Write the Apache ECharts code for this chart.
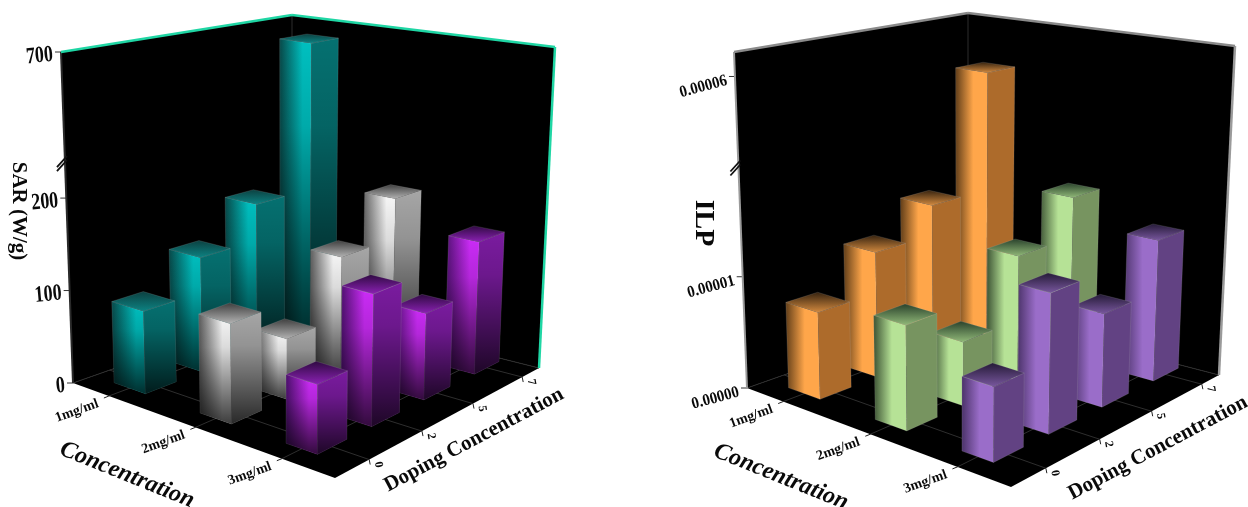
<!DOCTYPE html>
<html><head><meta charset="utf-8">
<style>html,body{margin:0;padding:0;background:#fff}#c{width:1248px;height:507px}</style>
<script src="https://cdn.jsdelivr.net/npm/echarts@6/dist/echarts.min.js"></script>
</head><body><div id="c"></div>
<script>
// ---- data ----
const concentrationLabels = ['1mg/ml', '2mg/ml', '3mg/ml'];
const concentrationValues = [1, 2, 3];
const dopingLabels = ['0', '2', '5', '7'];
const sarTickValues = [0, 100, 200, 700];
const sarTickLabels = ['0', '100', '200', '700'];
const ilpTickValues = [0, 0.00001, 0.00006];
const ilpTickLabels = ['0.00000', '0.00001', '0.00006'];
const sar1mg = [88, 126, 167, 681];
const sar2mg = [103, 64, 130, 175];
const sar3mg = [69, 136, 92, 146];
const ilp1mg = [0.0000077, 0.0000114, 0.0000142, 0.0000576];
const ilp2mg = [0.0000090, 0.0000056, 0.0000114, 0.0000151];
const ilp3mg = [0.0000062, 0.0000120, 0.0000082, 0.0000128];

// ---- layout and style ----
const G = echarts.graphic.LinearGradient;
const FONT = '"Liberation Serif","Times New Roman",serif';
const panels = [
  { name: 'SAR', title: 'SAR (W/g)', values: [sar1mg, sar2mg, sar3mg],
    ticks: sarTickValues, tickLabels: sarTickLabels, max: 700, brk: [240, 582],
    box: { F00:[73,383], F10:[335,478], F11:[539,368], F01:[292,306], T00:[61,52], T10:[337,105], T11:[555,47], T01:[292,15] },
    edgeTop: '#1fd6a4', edgeRight: '#1fd6a4', edgeLeft: '#2a2a2a', edgeW: 2.5,
    yFont: 'bold 18px ' + FONT, yScale: 1.3, yRot: 5, yDy: 3, titleFont: 'bold 21px ' + FONT, titlePos: [18, 211],
    concTitle: [127, 475], dopeTitle: [474, 440], shaded: true,
    colors: [
      { edge:'#084a4a', hi:'#00c6c6', side:'#057474', back:'#0c3f3f', front:'#0d8484' },
      { edge:'#5c5c5c', hi:'#ffffff', side:'#ababab', back:'#3d3d3d', front:'#b5b5b5' },
      { edge:'#4e1070', hi:'#d22dff', side:'#7e1ca4', back:'#2e0a40', front:'#8d22b6' }
    ] },
  { name: 'ILP', title: 'ILP', values: [ilp1mg, ilp2mg, ilp3mg],
    ticks: ilpTickValues, tickLabels: ilpTickLabels, max: 0.0000622, brk: [0.00002, 0.000052],
    box: { F00:[747,388], F10:[1011,487], F11:[1219,375], F01:[968,310], T00:[734,52], T10:[1014,107], T11:[1235,46], T01:[968,13] },
    edgeTop: '#8a8a8a', edgeRight: '#9a9a9a', edgeLeft: '#9a9a9a', edgeW: 2.5,
    yFont: 'bold 15px ' + FONT, yScale: 1.1, yRot: 15, yDy: 4, titleFont: 'bold 28px ' + FONT, titlePos: [703, 223],
    concTitle: [781, 477], dopeTitle: [1158, 448], shaded: false,
    colors: [
      { edge:'#5e3c18', hi:'#ffa64a', side:'#ad6b2b', back:'#33210f', front:'#d68c40' },
      { edge:'#3a5032', hi:'#b6e296', side:'#779460', back:'#28402a', front:'#93bb7a' },
      { edge:'#4a3268', hi:'#9a6dc9', side:'#624283', back:'#241a36', front:'#7a58a0' }
    ] }
];
const CONC_MIN = 0.585, CONC_MAX = 3.615; // concentration axis extent along the front-left floor edge

function lerp(a, b, t) { return [a[0] + (b[0] - a[0]) * t, a[1] + (b[1] - a[1]) * t]; }
function project(box, u, v, h) {
  const f = lerp(lerp(box.F00, box.F10, u), lerp(box.F01, box.F11, u), v);
  const t = lerp(lerp(box.T00, box.T10, u), lerp(box.T01, box.T11, u), v);
  return lerp(f, t, h);
}
function concU(c) { return (c - CONC_MIN) / (CONC_MAX - CONC_MIN); }
function dopeV(params, api, i) {
  const cs = params.coordSys;
  const t = (api.coord([i, 0])[0] - cs.x) / cs.width; // category band centre
  return 0.035 + 1.07 * t - 0.07 * t * t;             // foreshortening towards the back corner
}
function barHalfU() { return 0.06; }
function barHalfV(v) { return 0.074 - 0.016 * v; }
function heightOf(api, panel, val) {
  const y0 = api.coord([0, 0])[1], y1 = api.coord([0, panel.max])[1];
  return (y0 - api.coord([0, val])[1]) / (y0 - y1);
}
function poly(points, fill, stroke, sw) {
  return { type: 'polygon', silent: true, shape: { points }, style: { fill, stroke: stroke || null, lineWidth: sw || 0 } };
}
function seg(a, b, color, w) {
  return { type: 'line', silent: true, shape: { x1: a[0], y1: a[1], x2: b[0], y2: b[1] }, style: { stroke: color, lineWidth: w, fill: null } };
}
function txt(text, x, y, font, rotDeg, align, scaleY) {
  return { type: 'text', silent: true, x, y, rotation: rotDeg * Math.PI / 180, scaleY: scaleY || 1,
    style: { text, x: 0, y: 0, font, fill: '#0a0a0a', align: align || 'center', verticalAlign: 'middle' } };
}

function frameRenderer(panel) {
  return function (params, api) {
    const b = panel.box, P = (u, v, h) => project(b, u, v, h);
    const kids = [];
    kids.push(poly([b.T00, b.T01, b.F01, b.F00], '#000'));
    kids.push(poly([b.T01, b.T11, b.F11, b.F01], '#000'));
    kids.push(poly([b.F00, b.F10, b.F11, b.F01], '#000'));
    kids.push(seg(b.T01, b.F01, '#2c2c2c', 1));
    kids.push(seg(b.F00, b.F01, '#2c2c2c', 1));
    kids.push(seg(b.F01, b.F11, '#2c2c2c', 1));
    // floor grid and ticks
    const us = concentrationValues.map(concU);
    const vs = dopingLabels.map((d, i) => dopeV(params, api, i));
    us.forEach((u, i) => {
      kids.push(seg(P(u, 0, 0), P(u, 1, 0), '#2e2e2e', 1));
      const p = P(u, 0, 0);
      kids.push(seg(p, [p[0] - 5, p[1] + 2], '#222', 1));
      kids.push(txt(concentrationLabels[i], p[0] - 32, p[1] + 15, 'bold 14px ' + FONT, 20));
    });
    vs.forEach((v, i) => {
      kids.push(seg(P(0, v, 0), P(1, v, 0), '#2e2e2e', 1));
      const p = P(1, v, 0);
      kids.push(seg(p, [p[0] + 1, p[1] + 5], '#222', 1));
      kids.push(txt(dopingLabels[i], p[0] + 9, p[1] + 5, 'bold 12px ' + FONT, -80));
    });
    // value axis ticks and labels
    panel.ticks.forEach((val, i) => {
      const p = P(0, 0, heightOf(api, panel, val));
      kids.push(seg(p, [p[0] - 6, p[1]], '#333', 1));
      kids.push(txt(panel.tickLabels[i], p[0] - 8, p[1] + panel.yDy, panel.yFont, panel.yRot, 'right', panel.yScale));
    });
    // axis break mark
    const bp = P(0, 0, heightOf(api, panel, panel.brk[0]));
    kids.push(seg(b.T00, b.F00, panel.edgeLeft, 2));
    kids.push(seg([bp[0] - 8, bp[1] + 6], [bp[0] + 2, bp[1] - 5], '#111', 1.8));
    kids.push(seg([bp[0] - 8, bp[1] + 10], [bp[0] + 2, bp[1] - 1], '#111', 1.8));
    kids.push(seg(b.T11, b.F11, panel.edgeRight, panel.edgeW));
    kids.push(seg(b.T00, b.T01, panel.edgeTop, panel.edgeW));
    kids.push(seg(b.T01, b.T11, panel.edgeTop, panel.edgeW));
    // axis names
    kids.push(txt(panel.title, panel.titlePos[0], panel.titlePos[1], panel.titleFont, -90));
    kids.push(txt('Concentration', panel.concTitle[0], panel.concTitle[1], 'italic bold 24px ' + FONT, -22));
    kids.push(txt('Doping Concentration', panel.dopeTitle[0], panel.dopeTitle[1], 'bold 21px ' + FONT, 28));
    return { type: 'group', children: kids };
  };
}

function barRenderer(panel, rowIndex) {
  const col = panel.colors[rowIndex];
  return function (params, api) {
    const b = panel.box;
    const u = concU(concentrationValues[rowIndex]);
    const v = dopeV(params, api, api.value(0));
    const h = heightOf(api, panel, api.value(1));
    const du = barHalfU(), dv = barHalfV(v);
    const P = (uu, vv, hh) => project(b, uu, vv, hh);
    const L0 = P(u - du, v - dv, 0), F0 = P(u + du, v - dv, 0), R0 = P(u + du, v + dv, 0);
    const L1 = P(u - du, v - dv, h), F1 = P(u + du, v - dv, h), R1 = P(u + du, v + dv, h), B1 = P(u - du, v + dv, h);
    const line = 'rgba(190,190,190,0.2)';
    const leftFill = new G(0, 0, 1, 0, [
      { offset: 0, color: col.edge }, { offset: panel.shaded ? 0.72 : 0.55, color: col.hi }, { offset: 1, color: col.hi }]);
    const topFill = new G(0, 0, 0, 1, [{ offset: 0, color: col.back }, { offset: 1, color: col.front }]);
    const kids = [
      poly([L0, F0, F1, L1], leftFill, line, 0.8),
      poly([F0, R0, R1, F1], col.side, line, 0.8)
    ];
    if (panel.shaded) {
      const shade = new G(0, 0, 0, 1, [
        { offset: 0, color: 'rgba(0,0,0,0.03)' }, { offset: 0.3, color: 'rgba(0,0,0,0.14)' }, { offset: 1, color: 'rgba(0,0,0,0.76)' }]);
      kids.push(poly([L0, F0, F1, L1], shade));
      kids.push(poly([F0, R0, R1, F1], shade));
    }
    kids.push(poly([L1, F1, R1, B1], topFill, line, 0.8));
    return { type: 'group', children: kids };
  };
}

const grids = [], xAxes = [], yAxes = [], series = [];
panels.forEach((panel, pi) => {
  grids.push({ left: pi === 0 ? 40 : 660, top: 40, width: 520, height: 400, show: false });
  xAxes.push({ type: 'category', gridIndex: pi, data: dopingLabels, show: false });
  yAxes.push({ type: 'value', gridIndex: pi, min: 0, max: panel.max, show: false,
    breaks: [{ start: panel.brk[0], end: panel.brk[1], gap: 0 }] });
  series.push({ type: 'custom', name: panel.name + ' frame', xAxisIndex: pi, yAxisIndex: pi, silent: true, z: 1,
    renderItem: frameRenderer(panel), data: [[0, 0]] });
  panel.values.forEach((row, ri) => {
    // painted back to front: highest doping first
    const rowData = row.map((val, i) => [i, val]).reverse();
    series.push({ type: 'custom', name: panel.name + ' ' + concentrationLabels[ri], xAxisIndex: pi, yAxisIndex: pi,
      silent: true, z: 2 + ri, renderItem: barRenderer(panel, ri), data: rowData });
  });
});

const chart = echarts.init(document.getElementById('c'), null, { renderer: 'canvas' });
chart.setOption({ animation: false, backgroundColor: '#fff', tooltip: { show: false }, grid: grids, xAxis: xAxes, yAxis: yAxes, series });
</script></body></html>
